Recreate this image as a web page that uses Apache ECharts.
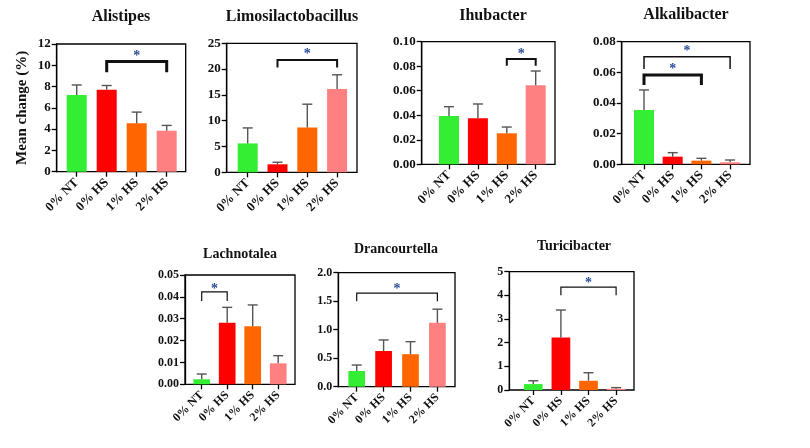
<!DOCTYPE html>
<html><head><meta charset="utf-8">
<script src="https://cdn.jsdelivr.net/npm/echarts@6/dist/echarts.min.js"></script>
<style>html,body{margin:0;padding:0;background:#fff}#c{width:810px;height:448px}</style>
</head><body><div id="c"></div><script>
// ---------- data ----------
const categories = ['0% NT', '0% HS', '1% HS', '2% HS'];
const barColors = ['#33ee33', '#ff0000', '#ff6600', '#ff8080'];

const alistipesMean = [7.2, 7.7, 4.55, 3.85];
const alistipesErr  = [8.15, 8.1, 5.6, 4.35];
const alistipesSig  = [[1, 3, 10.35, 9.35, 11.2]];

const limosiMean = [5.6, 1.55, 8.7, 16.15];
const limosiErr  = [8.6, 1.95, 13.2, 18.9];
const limosiSig  = [[1, 3, 21.75, 20.3, 23.7]];

const ihubMean = [0.0394, 0.0375, 0.0253, 0.0644];
const ihubErr  = [0.047, 0.0492, 0.0304, 0.0761];
const ihubSig  = [[2, 3, 0.0859, 0.0804, 0.093]];

const alkaMean = [0.0354, 0.005, 0.0024, 0.0013];
const alkaErr  = [0.0485, 0.0076, 0.0039, 0.0028];
const alkaSig  = [[0, 3, 0.0702, 0.0622, 0.0761], [0, 2, 0.0583, 0.0518, 0.0644]];

const lachMean = [0.0023, 0.0282, 0.0265, 0.0096];
const lachErr  = [0.0047, 0.0352, 0.0363, 0.0131];
const lachSig  = [[0, 1, 0.0423, 0.0381, 0.0454]];

const dranMean = [0.275, 0.626, 0.57, 1.12];
const dranErr  = [0.38, 0.82, 0.79, 1.36];
const dranSig  = [[0, 3, 1.64, 1.5, 1.78]];

const turiMean = [0.25, 2.22, 0.39, 0.05];
const turiErr  = [0.39, 3.38, 0.73, 0.1];
const turiSig  = [[1, 3, 4.35, 4.0, 4.67]];

// ---------- layout / style (not data) ----------
const SERIF = '"Liberation Serif", "DejaVu Serif", serif';
const panels = [
  {title:'Alistipes', mean:alistipesMean, err:alistipesErr, sig:alistipesSig, sigW:[3],
   max:12, interval:2, dec:0, frame:[56.7,44,185.7,171.7], first:76.7, step:30, barW:20, fs:13, xfs:13, tfs:16, tcx:121, ty:17, ylabel:true},
  {title:'Limosilactobacillus', mean:limosiMean, err:limosiErr, sig:limosiSig, sigW:[2],
   max:25, interval:5, dec:0, frame:[226.7,43.3,357,172.3], first:247.7, step:29.8, barW:20, fs:13, xfs:13, tfs:16, tcx:292, ty:17},
  {title:'Ihubacter', mean:ihubMean, err:ihubErr, sig:ihubSig, sigW:[2],
   max:0.10, interval:0.02, dec:2, frame:[421.7,41.7,555,164.3], first:449, step:28.9, barW:20, fs:13, xfs:13, tfs:16, tcx:493, ty:16},
  {title:'Alkalibacter', mean:alkaMean, err:alkaErr, sig:alkaSig, sigW:[1.5,3],
   max:0.08, interval:0.02, dec:2, frame:[621.7,41.7,750,164.3], first:644, step:28.7, barW:20, fs:13, xfs:13, tfs:16, tcx:686, ty:15},
  {title:'Lachnotalea', mean:lachMean, err:lachErr, sig:lachSig, sigW:[1.2],
   max:0.05, interval:0.01, dec:2, frame:[185,275,295,384.3], first:201.7, step:25.5, barW:16.7, fs:12, xfs:12, tfs:14, tcx:240, ty:254},
  {title:'Drancourtella', mean:dranMean, err:dranErr, sig:dranSig, sigW:[1.2],
   max:2, interval:0.5, dec:1, frame:[338.3,272.7,455,386.7], first:356.7, step:26.9, barW:16.7, fs:12, xfs:12, tfs:14, tcx:396, ty:249},
  {title:'Turicibacter', mean:turiMean, err:turiErr, sig:turiSig, sigW:[1.2],
   max:5, interval:1, dec:0, frame:[509.3,271.7,634,390], first:533.3, step:27.6, barW:18.7, fs:12, xfs:12, tfs:14, tcx:574, ty:246}
];

const grid = [], xAxis = [], yAxis = [], series = [], title = [];
panels.forEach((p, k) => {
  const [l, t, r, b] = p.frame;
  const fg = grid.length;
  grid.push({left:l, top:t, width:r-l, height:b-t, show:true, borderColor:'#000', borderWidth:1.3, backgroundColor:'transparent'});
  xAxis.push({gridIndex:fg, type:'value', show:false, min:0, max:1});
  yAxis.push({gridIndex:fg, type:'value', min:0, max:p.max, interval:p.interval,
    axisLine:{show:true, lineStyle:{color:'#000', width:1.3}},
    axisTick:{show:true, length:5, lineStyle:{color:'#000', width:1.3}},
    splitLine:{show:false},
    axisLabel:{color:'#111', fontFamily:SERIF, fontWeight:'bold', fontSize:p.fs, margin:6,
      formatter: v => v.toFixed(p.dec)},
    name: p.ylabel ? 'Mean change (%)' : '', nameLocation:'middle', nameGap:27,
    nameTextStyle:{color:'#111', fontFamily:SERIF, fontWeight:'bold', fontSize:15}
  });
  const dg = grid.length;
  const dl = p.first - p.step/2;
  grid.push({left:dl, top:t, width:p.step*4, height:b-t});
  const xi = xAxis.length;
  xAxis.push({gridIndex:dg, type:'category', data:categories,
    axisLine:{show:false},
    axisTick:{show:true, alignWithLabel:true, length:5, lineStyle:{color:'#000', width:1.3}},
    axisLabel:{interval:0, rotate:45, color:'#111', fontFamily:SERIF, fontWeight:'bold', fontSize:p.xfs, margin:9}
  });
  const yi = yAxis.length;
  yAxis.push({gridIndex:dg, type:'value', min:0, max:p.max, show:false});
  series.push({type:'bar', xAxisIndex:xi, yAxisIndex:yi, barWidth:p.barW, z:2,
    data: p.mean.map((v,i) => ({value:v, itemStyle:{color:barColors[i]}}))});
  series.push({type:'custom', xAxisIndex:xi, yAxisIndex:yi, z:3, clip:false,
    encode:{x:0, y:[1,2]},
    data: p.mean.map((v,i) => [i, p.err[i], v]),
    renderItem:(params, api) => {
      const i = api.value(0);
      const top = api.coord([i, api.value(1)]);
      const bot = api.coord([i, api.value(2)]);
      const st = {stroke:'#555', lineWidth:1.4};
      return {type:'group', children:[
        {type:'line', shape:{x1:top[0], y1:bot[1], x2:top[0], y2:top[1]}, style:st},
        {type:'line', shape:{x1:top[0]-5, y1:top[1], x2:top[0]+5, y2:top[1]}, style:st}
      ]};
    }});
  series.push({type:'custom', xAxisIndex:xi, yAxisIndex:yi, z:4, clip:false,
    encode:{x:[0,1], y:[2,3,4]},
    data: p.sig.map((s, j) => s.concat([p.sigW[j]])),
    renderItem:(params, api) => {
      const a = api.value(0), c = api.value(1);
      const A = api.coord([a, api.value(2)]), At = api.coord([a, api.value(3)]);
      const C = api.coord([c, api.value(2)]), Ct = api.coord([c, api.value(3)]);
      const S = api.coord([(a + c) / 2, api.value(4)]);
      return {type:'group', children:[
        {type:'polyline', shape:{points:[At, A, C, Ct]}, style:{stroke:'#111', lineWidth:api.value(5), fill:null}},
        {type:'text', x:(A[0]+C[0])/2, y:S[1]+4, style:{text:'*', fill:'#2a4c9a', font:'bold 14px ' + SERIF, align:'center', verticalAlign:'middle'}}
      ]};
    }});
  title.push({text:p.title, left:p.tcx, top:p.ty, textAlign:'center', textVerticalAlign:'middle', padding:0,
    textStyle:{color:'#111', fontFamily:SERIF, fontWeight:'bold', fontSize:p.tfs}});
});

const chart = echarts.init(document.getElementById('c'), null, {renderer:'canvas'});
chart.setOption({animation:false, backgroundColor:'#fff', title, grid, xAxis, yAxis, series});
</script></body></html>
